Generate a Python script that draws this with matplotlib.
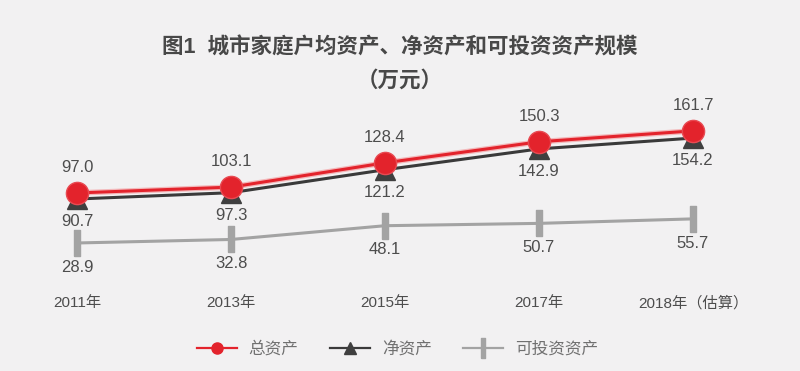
import matplotlib
matplotlib.use("Agg")
import matplotlib.pyplot as plt
import matplotlib.patheffects as pe
from matplotlib.lines import Line2D

plt.rcParams['font.family'] = ['Liberation Sans', 'Noto Sans CJK SC', 'DejaVu Sans']

years = ["2011年", "2013年", "2015年", "2017年", "2018年（估算）"]
total_assets = [97.0, 103.1, 128.4, 150.3, 161.7]
net_assets = [90.7, 97.3, 121.2, 142.9, 154.2]
investable_assets = [28.9, 32.8, 48.1, 50.7, 55.7]
series_names = ["总资产", "净资产", "可投资资产"]

W, H = 800, 371
bg = '#f2f1f2'
fig = plt.figure(figsize=(W / 100, H / 100), dpi=100, facecolor=bg)

x0, x1 = 77, 693
ytop, ybot = 120, 250
ax = fig.add_axes([x0 / W, (H - ybot) / H, (x1 - x0) / W, (ybot - ytop) / H])
ax.set_facecolor('none')
ax2 = ax.twinx()
ax2.set_facecolor('none')

xs = list(range(len(years)))
ax.set_xlim(0, len(years) - 1)
ax.set_ylim(37.6, 173.0)
ax2.set_ylim(21.1, 165.6)
for a in (ax, ax2):
    a.axis('off')

red = '#e3232c'
dark = '#3a3a3a'
gray = '#a3a3a3'
txt = '#4d4d4d'

ax.plot(xs, net_assets, color=dark, lw=2.2, marker='^', ms=14, mfc='#3f3f3f',
        mec='#3f3f3f', clip_on=False, zorder=3)
ax.plot(xs, total_assets, color=red, lw=2.2, clip_on=False, zorder=4,
        path_effects=[pe.Stroke(linewidth=4.0, foreground='#f3b9bb'), pe.Normal()])
ax.plot(xs, total_assets, ls='none', marker='o', ms=16, mfc=red, mec='#e84a52',
        mew=1.0, clip_on=False, zorder=5)
bar_marker = [(-0.25, -1), (0.25, -1), (0.25, 1), (-0.25, 1), (-0.25, -1)]
ax2.plot(xs, investable_assets, color=gray, lw=2.2, marker=bar_marker, ms=19,
         mfc=gray, mec=gray, clip_on=False, zorder=3)

fs = 12
for x, v in zip(xs, total_assets):
    ax.annotate(f"{v:.1f}", (x, v), xytext=(0, 13), textcoords='offset points',
                ha='center', va='bottom', fontsize=fs, color=txt)
for x, v in zip(xs, net_assets):
    ax.annotate(f"{v:.1f}", (x, v), xytext=(0, -11), textcoords='offset points',
                ha='center', va='top', fontsize=fs, color=txt)
for x, v in zip(xs, investable_assets):
    ax2.annotate(f"{v:.1f}", (x, v), xytext=(0, -12), textcoords='offset points',
                 ha='center', va='top', fontsize=fs, color=txt)

for x, lab in zip(xs, years):
    ax.annotate(lab, (x, 0), xycoords=('data', 'axes fraction'),
                xytext=(0, -(303 - ybot) * 0.72), textcoords='offset points',
                ha='center', va='center', fontsize=11, color=txt)

fig.text(0.5, 1 - 48 / H, "图1  城市家庭户均资产、净资产和可投资资产规模",
         ha='center', va='center', fontsize=15.5, fontweight='bold', color='#484848')
fig.text(0.5, 1 - 81 / H, "（万元）",
         ha='center', va='center', fontsize=15.5, fontweight='bold', color='#484848')

handles = [
    Line2D([], [], color=red, lw=1.6, marker='o', ms=8, mfc=red, mec=red),
    Line2D([], [], color=dark, lw=1.6, marker='^', ms=9, mfc='#3f3f3f', mec='#3f3f3f'),
    Line2D([], [], color=gray, lw=1.6, marker=bar_marker, ms=14, mfc=gray, mec=gray),
]
fig.legend(handles, series_names, loc='center', bbox_to_anchor=(0.497, 1 - 349 / H),
           ncol=3, frameon=False, fontsize=12, labelcolor='#707070',
           handlelength=2.4, columnspacing=1.9, handletextpad=0.7)

fig.savefig('out.png', dpi=100, facecolor=bg)
